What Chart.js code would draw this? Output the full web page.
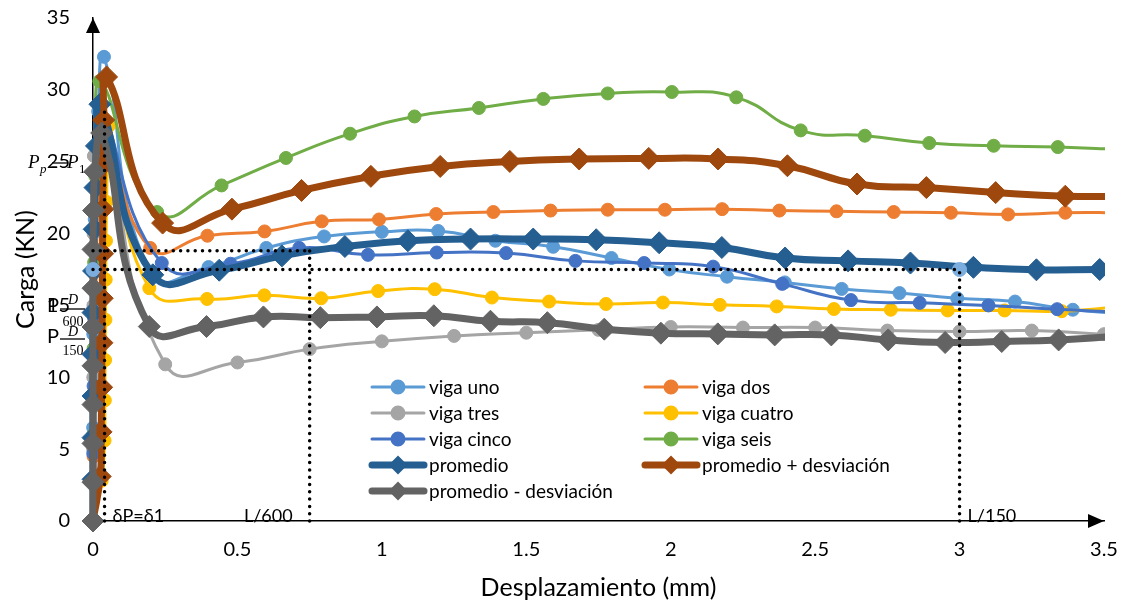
<!DOCTYPE html>
<html>
<head>
<meta charset="utf-8">
<script src="https://cdn.jsdelivr.net/npm/chart.js@4/dist/chart.umd.min.js"></script>
<style>
  html, body { margin: 0; padding: 0; background: #fff; }
</style>
</head>
<body>
<canvas id="mycanvas" width="1131" height="611"></canvas>
<script>
// ensayos de carga - desplazamiento, seis vigas
var vigaUnoX = [0, 0.0005, 0.001, 0.006, 0.018, 0.038, 0.2, 0.4, 0.6, 0.8, 1.0, 1.195, 1.393, 1.593, 1.795, 1.995, 2.195, 2.395, 2.592, 2.792, 2.992, 3.192, 3.392, 3.592];
var vigaUnoY = [0, 6.5, 13, 21, 28.5, 32.3, 17.2, 17.67, 19.0, 19.8, 20.12, 20.18, 19.5, 19.08, 18.3, 17.5, 17.0, 16.6, 16.15, 15.86, 15.5, 15.27, 14.7, 14.4];

var vigaDosX = [0, 0.002, 0.005, 0.008, 0.012, 0.018, 0.035, 0.198, 0.396, 0.594, 0.792, 0.99, 1.188, 1.386, 1.584, 1.782, 1.98, 2.178, 2.376, 2.574, 2.772, 2.97, 3.168, 3.366, 3.564];
var vigaDosY = [0, 4.5, 9, 13.5, 18, 22.5, 27.5, 19.0, 19.85, 20.15, 20.85, 20.98, 21.36, 21.5, 21.6, 21.66, 21.66, 21.7, 21.6, 21.55, 21.5, 21.45, 21.33, 21.45, 21.45];

var vigaTresX = [0, 0.0005, 0.001, 0.0015, 0.002, 0.003, 0.03, 0.25, 0.5, 0.75, 1.0, 1.25, 1.5, 1.75, 2.0, 2.25, 2.5, 2.75, 3.0, 3.25, 3.5];
var vigaTresY = [0, 5, 10, 15, 20, 25.4, 27.5, 10.9, 11.03, 11.96, 12.5, 12.88, 13.1, 13.3, 13.5, 13.46, 13.46, 13.25, 13.18, 13.25, 13.0];

var vigaCuatroX = [0, 0.03, 0.04, 0.041, 0.042, 0.043, 0.044, 0.045, 0.047, 0.05, 0.055, 0.195, 0.395, 0.593, 0.79, 0.987, 1.183, 1.381, 1.579, 1.776, 1.973, 2.17, 2.367, 2.565, 2.762, 2.959, 3.156, 3.354, 3.551];
var vigaCuatroY = [0, 2.8, 5.6, 8.4, 11.2, 14.0, 16.8, 19.5, 22.2, 25, 27.5, 16.2, 15.45, 15.7, 15.5, 16.0, 16.13, 15.55, 15.27, 15.1, 15.2, 15.04, 14.93, 14.75, 14.7, 14.65, 14.65, 14.6, 14.9];

var vigaCincoX = [0, 0.001, 0.002, 0.004, 0.008, 0.014, 0.025, 0.238, 0.476, 0.714, 0.952, 1.19, 1.43, 1.67, 1.908, 2.147, 2.386, 2.624, 2.862, 3.1, 3.338, 3.576];
var vigaCincoY = [0, 4.7, 9.4, 14.1, 18.8, 23.5, 28.5, 17.95, 17.9, 19.0, 18.52, 18.68, 18.64, 18.1, 17.95, 17.7, 16.5, 15.37, 15.18, 15.0, 14.74, 14.5];

var vigaSeisX = [0, 0.001, 0.002, 0.004, 0.008, 0.022, 0.222, 0.445, 0.668, 0.89, 1.113, 1.336, 1.559, 1.782, 2.004, 2.227, 2.45, 2.672, 2.895, 3.118, 3.34, 3.563];
var vigaSeisY = [0, 6, 12, 18, 24, 30.6, 21.5, 23.35, 25.26, 26.95, 28.15, 28.74, 29.37, 29.75, 29.85, 29.48, 27.18, 26.81, 26.3, 26.11, 26.02, 25.85];

var promedioX = [0, 0, 0, 0, 0, 0, 0.002, 0.004, 0.007, 0.012, 0.024, 0.207, 0.437, 0.654, 0.872, 1.09, 1.307, 1.524, 1.742, 1.96, 2.177, 2.396, 2.614, 2.83, 3.048, 3.266, 3.485];
var promedioY = [0, 2.9, 5.8, 8.7, 11.6, 14.5, 17.4, 20.3, 23.2, 26.1, 29.0, 17.13, 17.45, 18.45, 19.1, 19.5, 19.62, 19.62, 19.57, 19.36, 19.03, 18.3, 18.1, 17.95, 17.65, 17.48, 17.5];

var promMasX = [0, 0.025, 0.028, 0.03, 0.031, 0.032, 0.033, 0.034, 0.035, 0.037, 0.047, 0.241, 0.481, 0.722, 0.962, 1.202, 1.443, 1.683, 1.924, 2.164, 2.404, 2.645, 2.885, 3.125, 3.366, 3.606];
var promMasY = [0, 3.1, 6.2, 9.3, 12.4, 15.5, 18.6, 21.7, 24.8, 27.9, 30.9, 20.73, 21.7, 23.0, 23.98, 24.67, 25.02, 25.19, 25.23, 25.19, 24.72, 23.45, 23.2, 22.85, 22.6, 22.6];

var promMenosX = [0, 0, 0, 0, 0, 0, 0, 0, 0.002, 0.006, 0.03, 0.195, 0.393, 0.59, 0.787, 0.983, 1.18, 1.376, 1.573, 1.77, 1.966, 2.163, 2.36, 2.556, 2.753, 2.95, 3.146, 3.343, 3.54];
var promMenosY = [0, 2.7, 5.4, 8.1, 10.8, 13.5, 16.2, 18.9, 21.6, 24.3, 27.0, 13.53, 13.53, 14.2, 14.15, 14.2, 14.28, 13.9, 13.8, 13.35, 13.07, 13.02, 12.95, 12.95, 12.6, 12.42, 12.49, 12.6, 12.85];

// puntos de referencia y limites L/600, L/150
var marcasX = [0, 3.0];
var marcasY = [17.5, 17.5];
var limitesX = [0.04, 0.75, 3.0];
var limitesY = [28.8, 18.8, 17.5];
var limitesTexto = ['δP=δ1', 'L/600', 'L/150'];

var xTicks = [0, 0.5, 1, 1.5, 2, 2.5, 3, 3.5];
var yTicks = [0, 5, 10, 15, 20, 25, 30, 35];

function puntos(xs, ys) {
  return xs.map(function(x, i) { return {x: x, y: ys[i]}; });
}

function serie(label, xs, ys, color, gruesa) {
  return {
    label: label,
    data: puntos(xs, ys),
    borderColor: color,
    backgroundColor: color,
    pointBackgroundColor: color,
    pointBorderColor: color,
    borderWidth: gruesa ? 7 : 3,
    pointStyle: gruesa ? 'rectRot' : 'circle',
    pointRadius: gruesa ? 11 : 6.5,
    pointBorderWidth: 1,
    tension: 0.5,
    clip: {left: 15, top: 15, right: 1, bottom: 15},
    legendRadius: gruesa ? 4.5 : 6
  };
}

var datasets = [
  serie('viga uno', vigaUnoX, vigaUnoY, '#5B9BD5', false),
  serie('viga dos', vigaDosX, vigaDosY, '#ED7D31', false),
  serie('viga tres', vigaTresX, vigaTresY, '#A5A5A5', false),
  serie('viga cuatro', vigaCuatroX, vigaCuatroY, '#FFC000', false),
  serie('viga cinco', vigaCincoX, vigaCincoY, '#4472C4', false),
  serie('viga seis', vigaSeisX, vigaSeisY, '#70AD47', false),
  serie('promedio', promedioX, promedioY, '#255E91', true),
  serie('promedio + desviación', promMasX, promMasY, '#9E480E', true),
  serie('promedio - desviación', promMenosX, promMenosY, '#636363', true)
];
var marcas = serie('', marcasX, marcasY, '#7BAEDE', false);
marcas.showLine = false;
marcas.pointRadius = 7;
datasets.push(marcas);
// later series sit on top
datasets.forEach(function(d, i) { d.order = datasets.length - i; });
marcas.order = 0;

var dibujos = {
  id: 'dibujos',
  afterDatasetsDraw: function(chart) {
    var ctx = chart.ctx, xs = chart.scales.x, ys = chart.scales.y;
    ctx.save();
    ctx.strokeStyle = '#000';
    ctx.lineWidth = 3.5;
    ctx.lineCap = 'round';
    ctx.setLineDash([0, 7.3]);
    var x0 = xs.getPixelForValue(0), y0 = ys.getPixelForValue(0);
    // verticales
    limitesX.forEach(function(v, i) {
      var px = xs.getPixelForValue(v);
      ctx.beginPath();
      ctx.moveTo(px, y0);
      ctx.lineTo(px, ys.getPixelForValue(limitesY[i]));
      ctx.stroke();
    });
    // horizontales
    for (var i = 1; i < limitesX.length; i++) {
      var py = ys.getPixelForValue(limitesY[i]);
      ctx.beginPath();
      ctx.moveTo(x0, py);
      ctx.lineTo(xs.getPixelForValue(limitesX[i]), py);
      ctx.stroke();
    }
    ctx.restore();
  },
  afterDraw: function(chart) {
    var ctx = chart.ctx, a = chart.chartArea, xs = chart.scales.x, ys = chart.scales.y;
    ctx.save();
    // flechas de los ejes
    ctx.fillStyle = '#000';
    ctx.beginPath();
    ctx.moveTo(a.left, a.top);
    ctx.lineTo(a.left - 7, a.top + 15);
    ctx.lineTo(a.left + 7, a.top + 15);
    ctx.closePath();
    ctx.fill();
    ctx.beginPath();
    ctx.moveTo(a.right, a.bottom);
    ctx.lineTo(a.right - 16, a.bottom - 7);
    ctx.lineTo(a.right - 16, a.bottom + 7);
    ctx.closePath();
    ctx.fill();

    // textos sobre el eje x
    ctx.font = '18px Lato';
    ctx.textBaseline = 'alphabetic';
    var yb = a.bottom + 1;
    ctx.textAlign = 'left';
    ctx.fillText(limitesTexto[0], xs.getPixelForValue(limitesX[0]) + 8, yb);
    ctx.textAlign = 'right';
    ctx.fillText(limitesTexto[1], xs.getPixelForValue(limitesX[1]) - 17, yb);
    ctx.textAlign = 'left';
    ctx.fillText(limitesTexto[2], xs.getPixelForValue(limitesX[2]) + 8, yb);

    // Pp = P1
    ctx.font = 'italic 19px "Liberation Serif"';
    ctx.fillText('P', 28, 168);
    ctx.fillText('P', 67, 168);
    ctx.font = 'italic 13px "Liberation Serif"';
    ctx.fillText('p', 40, 173);
    ctx.font = '13px "Liberation Serif"';
    ctx.fillText('1', 79, 173);
    ctx.lineWidth = 1.3;
    ctx.strokeStyle = '#000';
    ctx.beginPath();
    ctx.moveTo(52, 163);
    ctx.lineTo(67, 163);
    ctx.stroke();

    // P D/600 y P D/150
    [[312, 309, 304, 326, '600'], [343, 339, 336, 355, '150']].forEach(function(f) {
      ctx.font = '20px Lato';
      ctx.textAlign = 'left';
      ctx.fillText('P', 47, f[0]);
      ctx.beginPath();
      ctx.moveTo(60, f[1]);
      ctx.lineTo(85, f[1]);
      ctx.stroke();
      ctx.textAlign = 'center';
      ctx.font = 'italic 14px "Liberation Serif"';
      ctx.fillText('D', 73, f[2]);
      ctx.font = '14px "Liberation Serif"';
      ctx.fillText(f[4], 73, f[3]);
    });

    // leyenda
    var cols = [370, 643], fila0 = 387, alto = 26;
    var items = chart.data.datasets.filter(function(d) { return d.label; });
    items.forEach(function(ds, i) {
      var cx = cols[i % 2], cy = fila0 + Math.floor(i / 2) * alto;
      ctx.strokeStyle = ds.borderColor;
      ctx.fillStyle = ds.borderColor;
      ctx.lineWidth = ds.borderWidth;
      ctx.lineCap = 'round';
      ctx.beginPath();
      ctx.moveTo(cx + 2, cy);
      ctx.lineTo(cx + 54, cy);
      ctx.stroke();
      Chart.helpers.drawPoint(ctx, {pointStyle: ds.pointStyle, radius: ds.legendRadius, borderWidth: 1, rotation: 0}, cx + 28, cy);
      ctx.fillStyle = '#000';
      ctx.font = '19px Lato';
      ctx.textAlign = 'left';
      ctx.textBaseline = 'middle';
      ctx.fillText(ds.label, cx + 59, cy + 1);
    });
    ctx.restore();
  }
};

var ctx = document.getElementById('mycanvas');
var grafico = new Chart(ctx, {
  type: 'line',
  data: {datasets: datasets},
  options: {
    responsive: false,
    animation: false,
    devicePixelRatio: 1,
    layout: {padding: {top: 18, right: 27, bottom: 0, left: 0}},
    plugins: {legend: {display: false}, tooltip: {enabled: false}},
    scales: {
      x: {
        type: 'linear', min: 0, max: 3.5,
        grid: {display: false, drawTicks: false},
        border: {display: true, color: '#000', width: 1.5},
        afterBuildTicks: function(s) { s.ticks = xTicks.map(function(v) { return {value: v}; }); },
        afterFit: function(s) { s.height = 90; s.paddingLeft = 0; s.paddingRight = 0; },
        ticks: {font: {family: 'Lato', size: 20}, color: '#000', padding: 17, maxRotation: 0,
          callback: function(v) { return String(v); }},
        title: {display: true, text: 'Desplazamiento (mm)', color: '#000',
          font: {family: 'Lato', size: 25}, padding: {top: 0, bottom: 8}}
      },
      y: {
        type: 'linear', min: 0, max: 35,
        grid: {display: false, drawTicks: false},
        border: {display: true, color: '#000', width: 1.5},
        afterBuildTicks: function(s) { s.ticks = yTicks.map(function(v) { return {value: v}; }); },
        afterFit: function(s) { s.width = 93; s.paddingTop = 0; s.paddingBottom = 0; },
        ticks: {font: {family: 'Lato', size: 20}, color: '#000', padding: 23,
          callback: function(v) { return String(v); }},
        title: {display: true, text: 'Carga (KN)', color: '#000',
          font: {family: 'Lato', size: 25}, padding: {top: 11, bottom: 0}}
      }
    }
  },
  plugins: [dibujos]
});
</script>
</body>
</html>
